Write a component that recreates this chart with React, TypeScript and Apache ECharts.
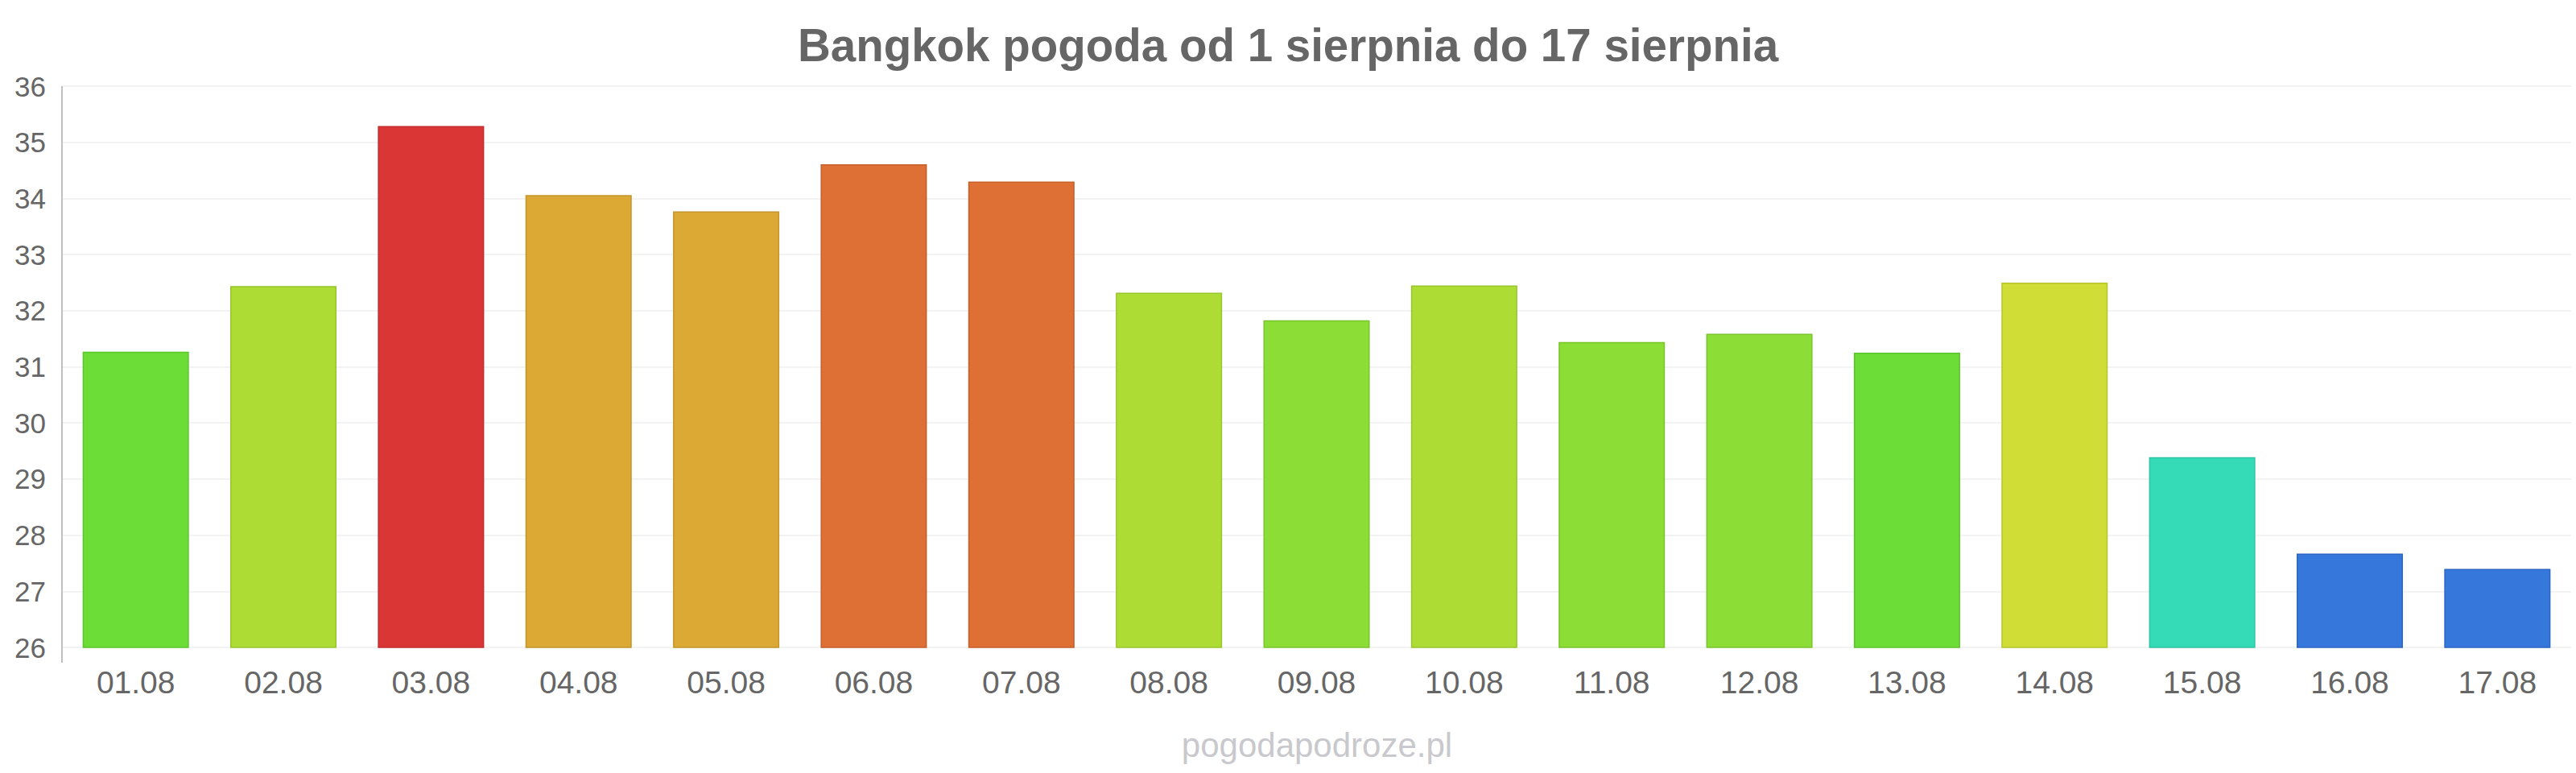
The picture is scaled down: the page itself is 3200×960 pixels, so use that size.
import React, { useEffect, useRef } from "react";
import * as echarts from "echarts";

const TITLE = "Bangkok pogoda od 1 sierpnia do 17 sierpnia";
const WATERMARK = "pogodapodroze.pl";
const categories = ["01.08", "02.08", "03.08", "04.08", "05.08", "06.08", "07.08", "08.08", "09.08", "10.08", "11.08", "12.08", "13.08", "14.08", "15.08", "16.08", "17.08"];
const temperatures = [31.27, 32.44, 35.29, 34.06, 33.77, 34.61, 34.3, 32.32, 31.83, 32.45, 31.44, 31.59, 31.25, 32.5, 29.39, 27.67, 27.4];
const barColors = ["#6cdd37", "#addd35", "#db3636", "#dca935", "#dca935", "#de7036", "#de7036", "#addd35", "#8cdd36", "#addd35", "#8cdd36", "#8cdd36", "#6cdd37", "#cfdd36", "#35dbb7", "#3677dc", "#3677dc"];
const borderColors = ["#5cc52c", "#98c52b", "#c42c2c", "#c4952b", "#c4952b", "#c55f2b", "#c55f2b", "#98c52b", "#79c52b", "#98c52b", "#79c52b", "#79c52b", "#5cc52c", "#b7c52b", "#2cc4a2", "#2c66c4", "#2c66c4"];
const yTicks = { min: 26, max: 36, interval: 1 };

export default function App() {
  const ref = useRef<HTMLDivElement>(null);
  useEffect(() => {
    if (!ref.current) return;
    const chart = echarts.init(ref.current, null, { renderer: "svg" });
    chart.setOption({
      animation: false,
      backgroundColor: "#ffffff",
      textStyle: { fontFamily: "'Liberation Sans', Arial, sans-serif" },
      title: {
        text: TITLE,
        left: "center",
        top: 23,
        textStyle: { fontSize: 56.5, fontWeight: "bold", color: "#666666", fontFamily: "'Liberation Sans', Arial, sans-serif" },
      },
      grid: { left: 77, right: 6, top: 107, bottom: 156, containLabel: false },
      xAxis: {
        type: "category",
        data: categories,
        axisLine: { show: false },
        axisTick: { show: false },
        axisLabel: { color: "#666666", fontSize: 39, margin: 24, fontFamily: "'Liberation Sans', Arial, sans-serif" },
      },
      yAxis: {
        type: "value",
        min: yTicks.min,
        max: yTicks.max,
        interval: yTicks.interval,
        axisLine: { show: false },
        axisTick: { show: false },
        splitLine: { lineStyle: { color: "#f3f3f3", width: 2 } },
        axisLabel: { color: "#666666", fontSize: 35, margin: 20, fontFamily: "'Liberation Sans', Arial, sans-serif" },
      },
      graphic: [
        {
          type: "line",
          shape: { x1: 77, y1: 107, x2: 77, y2: 823 },
          style: { stroke: "#c0c0c0", lineWidth: 2 },
          z: 10,
        },
        {
          type: "text",
          x: 1636,
          y: 925,
          style: {
            text: WATERMARK,
            fontSize: 42,
            fill: "#c9c9cd",
            align: "center",
            verticalAlign: "middle",
            fontFamily: "'Liberation Sans', Arial, sans-serif",
          },
        },
      ],
      series: [
        {
          type: "bar",
          barWidth: "72%",
          data: temperatures.map((v, i) => ({
            value: v,
            itemStyle: { color: barColors[i], borderColor: borderColors[i], borderWidth: 1.5 },
          })),
        },
      ],
    });
    return () => chart.dispose();
  }, []);
  return (
    <div
      ref={ref}
      style={{ position: "fixed", left: 0, top: 0, width: 3200, height: 960 }}
    />
  );
}
